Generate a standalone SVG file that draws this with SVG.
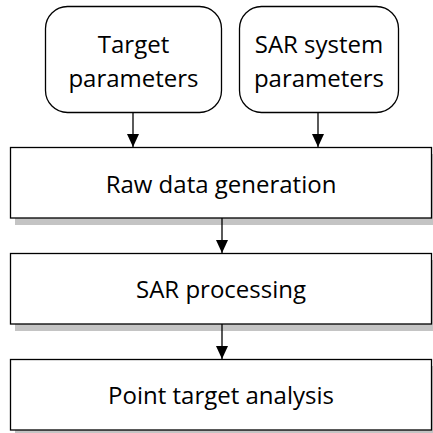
<svg xmlns="http://www.w3.org/2000/svg" width="433" height="433" viewBox="0 0 433 433">
<defs>
<style>
.box{fill:#fff;stroke:#000;stroke-width:1.3}
.shadow{fill:#c4c4c4}
.lbl{font-family:"Open Sans","Noto Sans",sans-serif;font-size:24px;fill:#000;text-anchor:middle}
.edge{stroke:#000;stroke-width:1.3;fill:none;marker-end:url(#ah)}
</style>
<marker id="ah" markerWidth="13" markerHeight="12" refX="13" refY="6" orient="auto" markerUnits="userSpaceOnUse" viewBox="0 0 13 12">
<path d="M0,0 L13,6 L0,12 Z" fill="#000"/>
</marker>
</defs>
<rect width="433" height="433" fill="#fff"/>
<g id="target-params">
<rect class="box" x="45.5" y="6.5" width="176" height="106" rx="22"/>
<text class="lbl" x="133.5" y="53">Target</text>
<text class="lbl" x="133.5" y="87">parameters</text>
</g>
<g id="sar-params">
<rect class="box" x="239.5" y="6.5" width="159" height="106" rx="22"/>
<text class="lbl" x="319" y="53">SAR system</text>
<text class="lbl" x="319" y="87">parameters</text>
</g>
<g id="raw-data">
<rect class="shadow" x="15" y="154" width="421" height="71"/>
<rect class="box" x="10.5" y="147.5" width="421" height="70.5"/>
<text class="lbl" x="221" y="193">Raw data generation</text>
</g>
<g id="sar-processing">
<rect class="shadow" x="15" y="260" width="421" height="71"/>
<rect class="box" x="10.5" y="253.5" width="421" height="70.5"/>
<text class="lbl" x="221" y="298">SAR processing</text>
</g>
<g id="point-target">
<rect class="shadow" x="15" y="366" width="421" height="71"/>
<rect class="box" x="10.5" y="359.5" width="421" height="70.5"/>
<text class="lbl" x="221" y="404">Point target analysis</text>
</g>
<g id="connectors">
<line class="edge" x1="133" y1="113" x2="133" y2="147"/>
<line class="edge" x1="318" y1="113" x2="318" y2="147"/>
<line class="edge" x1="222" y1="218" x2="222" y2="253"/>
<line class="edge" x1="222" y1="324" x2="222" y2="359"/>
</g>
</svg>
